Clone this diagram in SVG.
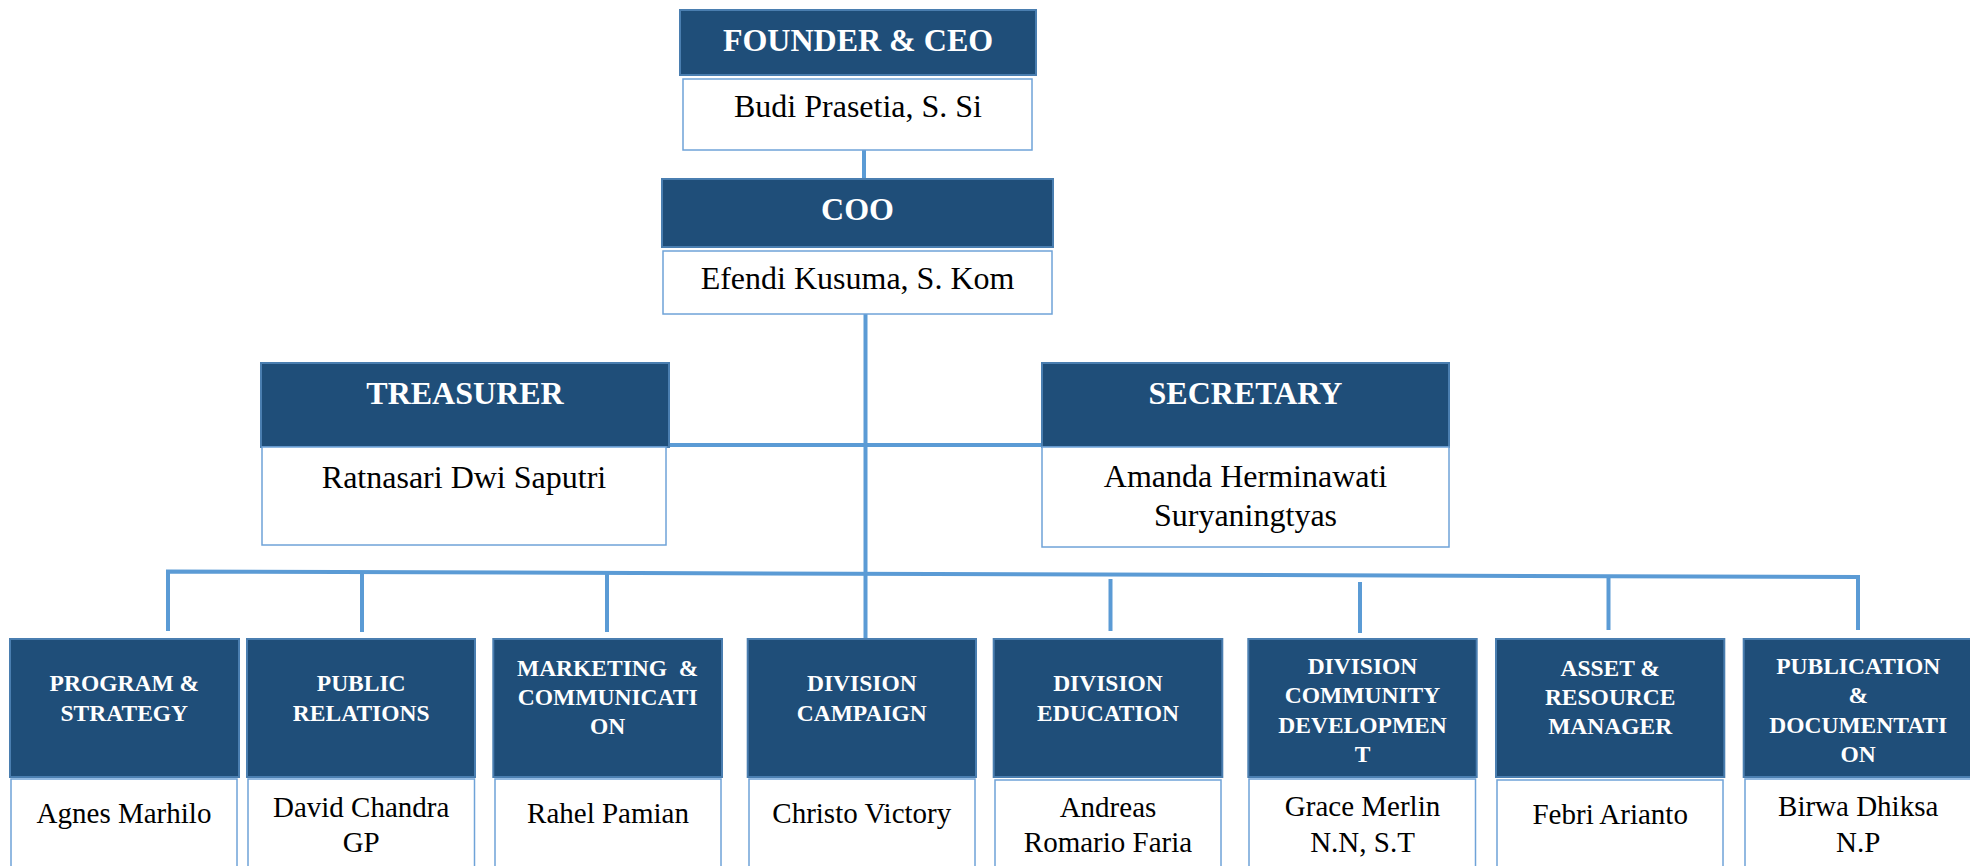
<svg xmlns="http://www.w3.org/2000/svg" width="1970" height="866" viewBox="0 0 1970 866">
<style>
.hd{fill:#1F4E79;stroke:#4A7EB0;stroke-width:2}
.bd{fill:#FFFFFF;stroke:#6FA3D8;stroke-width:1.5}
.ht{font-family:"Liberation Serif","Times New Roman",serif;font-weight:bold;fill:#FFFFFF;text-anchor:middle}
.nt{font-family:"Liberation Serif","Times New Roman",serif;fill:#000000;text-anchor:middle}
.h32{font-size:32px}
.h24{font-size:23.5px}
.n32{font-size:32px}
.n29{font-size:29px}
.cn{stroke:#5B9BD5;stroke-width:4;fill:none}
</style>
<rect width="1970" height="866" fill="#FFFFFF"/>
<g id="connectors">
<line class="cn" x1="864" y1="150" x2="864" y2="179"/>
<line class="cn" x1="865.5" y1="314" x2="865.5" y2="638"/>
<line class="cn" x1="668" y1="445" x2="1042" y2="445"/>
<polyline class="cn" points="168,631 168,571.5 1858,577 1858,630"/>
<line class="cn" x1="362" y1="571.5" x2="362" y2="632"/>
<line class="cn" x1="607" y1="572.5" x2="607" y2="632"/>
<line class="cn" x1="1110.5" y1="579" x2="1110.5" y2="631"/>
<line class="cn" x1="1360" y1="582" x2="1360" y2="633"/>
<line class="cn" x1="1608.5" y1="577" x2="1608.5" y2="630"/>
</g>
<g id="founder">
<rect class="hd" x="680" y="10" width="356" height="65"/>
<rect class="bd" x="683" y="79" width="349" height="71"/>
<text class="ht h32" x="858" y="51">FOUNDER &amp; CEO</text>
<text class="nt n32" x="858" y="117">Budi Prasetia, S. Si</text>
</g>
<g id="coo">
<rect class="hd" x="662" y="179" width="391" height="68"/>
<rect class="bd" x="663" y="251" width="389" height="63"/>
<text class="ht h32" x="857.5" y="220">COO</text>
<text class="nt n32" x="857.5" y="289">Efendi Kusuma, S. Kom</text>
</g>
<g id="treasurer">
<rect class="hd" x="261" y="363" width="408" height="84"/>
<rect class="bd" x="262" y="447" width="404" height="98"/>
<text class="ht h32" x="465" y="404">TREASURER</text>
<text class="nt n32" x="464" y="488">Ratnasari Dwi Saputri</text>
</g>
<g id="secretary">
<rect class="hd" x="1042" y="363" width="407" height="84"/>
<rect class="bd" x="1042" y="447" width="407" height="100"/>
<text class="ht h32" x="1245.5" y="404">SECRETARY</text>
<text class="nt n32" x="1245.5" y="487">Amanda Herminawati</text>
<text class="nt n32" x="1245.5" y="526">Suryaningtyas</text>
</g>
<g id="program">
<rect class="hd" x="10" y="639" width="229" height="138"/>
<rect class="bd" x="11" y="779" width="226" height="100"/>
<text class="ht h24" x="124.3" y="691">PROGRAM &amp;</text>
<text class="ht h24" x="124.3" y="721">STRATEGY</text>
<text class="nt n29" x="124" y="822.7">Agnes Marhilo</text>
</g>
<g id="public">
<rect class="hd" x="247" y="639" width="228" height="138"/>
<rect class="bd" x="248" y="779" width="226.5" height="100"/>
<text class="ht h24" x="361.2" y="691">PUBLIC</text>
<text class="ht h24" x="361.2" y="721">RELATIONS</text>
<text class="nt n29" x="361.2" y="816.7">David Chandra</text>
<text class="nt n29" x="361.2" y="851.7">GP</text>
</g>
<g id="marketing">
<rect class="hd" x="493.3" y="639" width="228.7" height="138"/>
<rect class="bd" x="495" y="779" width="226" height="100"/>
<text class="ht h24" x="607.7" y="676">MARKETING&#160; &amp;</text>
<text class="ht h24" x="607.7" y="705">COMMUNICATI</text>
<text class="ht h24" x="607.7" y="734">ON</text>
<text class="nt n29" x="608" y="822.7">Rahel Pamian</text>
</g>
<g id="campaign">
<rect class="hd" x="747.7" y="639" width="228.3" height="138"/>
<rect class="bd" x="749" y="779" width="226" height="100"/>
<text class="ht h24" x="861.8" y="691">DIVISION</text>
<text class="ht h24" x="861.8" y="721">CAMPAIGN</text>
<text class="nt n29" x="861.8" y="822.7">Christo Victory</text>
</g>
<g id="education">
<rect class="hd" x="993.7" y="639" width="228.6" height="138"/>
<rect class="bd" x="995" y="780" width="226" height="100"/>
<text class="ht h24" x="1108" y="691">DIVISION</text>
<text class="ht h24" x="1108" y="721">EDUCATION</text>
<text class="nt n29" x="1108" y="816.7">Andreas</text>
<text class="nt n29" x="1108" y="852.3">Romario Faria</text>
</g>
<g id="community">
<rect class="hd" x="1248.3" y="639" width="228.4" height="138"/>
<rect class="bd" x="1249" y="779" width="226.5" height="100"/>
<text class="ht h24" x="1362.5" y="674.3">DIVISION</text>
<text class="ht h24" x="1362.5" y="703.3">COMMUNITY</text>
<text class="ht h24" x="1362.5" y="732.7">DEVELOPMEN</text>
<text class="ht h24" x="1362.5" y="761.7">T</text>
<text class="nt n29" x="1362.5" y="815.7">Grace Merlin</text>
<text class="nt n29" x="1362.5" y="851.7">N.N, S.T</text>
</g>
<g id="asset">
<rect class="hd" x="1496" y="639" width="228.3" height="138"/>
<rect class="bd" x="1497" y="780" width="226" height="100"/>
<text class="ht h24" x="1610.2" y="676">ASSET &amp;</text>
<text class="ht h24" x="1610.2" y="705">RESOURCE</text>
<text class="ht h24" x="1610.2" y="734">MANAGER</text>
<text class="nt n29" x="1610.2" y="824">Febri Arianto</text>
</g>
<g id="publication">
<rect class="hd" x="1743.7" y="639" width="229" height="138"/>
<rect class="bd" x="1745" y="779" width="228" height="100"/>
<text class="ht h24" x="1858.2" y="674">PUBLICATION</text>
<text class="ht h24" x="1858.2" y="703">&amp;</text>
<text class="ht h24" x="1858.2" y="733">DOCUMENTATI</text>
<text class="ht h24" x="1858.2" y="762">ON</text>
<text class="nt n29" x="1858.2" y="815.7">Birwa Dhiksa</text>
<text class="nt n29" x="1858.2" y="851.7">N.P</text>
</g>
</svg>
